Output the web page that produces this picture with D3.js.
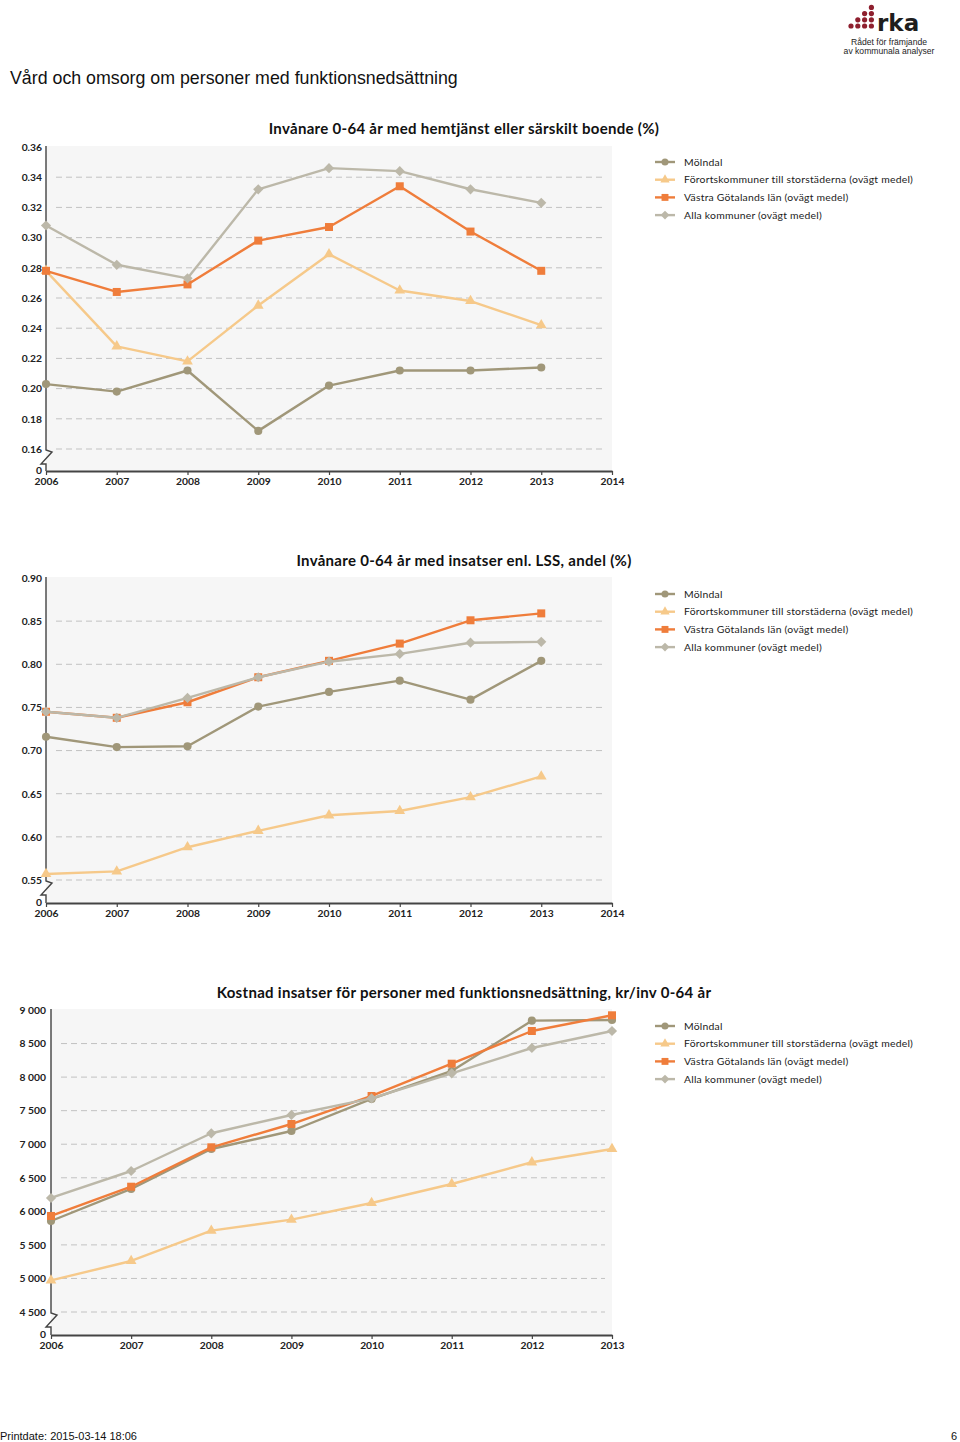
<!DOCTYPE html>
<html><head><meta charset="utf-8">
<script src="https://cdn.jsdelivr.net/npm/d3@7"></script>
<style>
html,body{margin:0;padding:0;background:#fff;}
svg{display:block;}
</style></head>
<body>
<svg id="page" width="960" height="1442"></svg>
<script>
// ---------------- DATA ----------------
const seriesNames = ["Mölndal", "Förortskommuner till storstäderna (ovägt medel)", "Västra Götalands län (ovägt medel)", "Alla kommuner (ovägt medel)"];
const years = [2006, 2007, 2008, 2009, 2010, 2011, 2012, 2013];
const xTicksA = [2006, 2007, 2008, 2009, 2010, 2011, 2012, 2013, 2014];
const xTicksC = [2006, 2007, 2008, 2009, 2010, 2011, 2012, 2013];

// Chart 1: Invånare 0-64 år med hemtjänst eller särskilt boende (%)
const title1 = "Invånare 0-64 år med hemtjänst eller särskilt boende (%)";
const yTicks1 = [0.16, 0.18, 0.20, 0.22, 0.24, 0.26, 0.28, 0.30, 0.32, 0.34, 0.36];
const c1Molndal = [0.203, 0.198, 0.212, 0.172, 0.202, 0.212, 0.212, 0.214];
const c1Forort  = [0.278, 0.228, 0.218, 0.255, 0.289, 0.265, 0.258, 0.242];
const c1Vastra  = [0.278, 0.264, 0.269, 0.298, 0.307, 0.334, 0.304, 0.278];
const c1Alla    = [0.308, 0.282, 0.273, 0.332, 0.346, 0.344, 0.332, 0.323];

// Chart 2: Invånare 0-64 år med insatser enl. LSS, andel (%)
const title2 = "Invånare 0-64 år med insatser enl. LSS, andel (%)";
const yTicks2 = [0.55, 0.60, 0.65, 0.70, 0.75, 0.80, 0.85, 0.90];
const c2Molndal = [0.716, 0.704, 0.705, 0.751, 0.768, 0.781, 0.759, 0.804];
const c2Forort  = [0.557, 0.560, 0.588, 0.607, 0.625, 0.630, 0.646, 0.670];
const c2Vastra  = [0.745, 0.738, 0.756, 0.785, 0.804, 0.824, 0.851, 0.859];
const c2Alla    = [0.745, 0.738, 0.761, 0.785, 0.803, 0.812, 0.825, 0.826];

// Chart 3: Kostnad insatser för personer med funktionsnedsättning, kr/inv 0-64 år
const title3 = "Kostnad insatser för personer med funktionsnedsättning, kr/inv 0-64 år";
const yTicks3 = [4500, 5000, 5500, 6000, 6500, 7000, 7500, 8000, 8500, 9000];
const c3Molndal = [5856, 6333, 6929, 7197, 7674, 8091, 8841, 8851];
const c3Forort  = [4970, 5260, 5712, 5876, 6124, 6407, 6731, 6929];
const c3Vastra  = [5931, 6367, 6954, 7301, 7719, 8200, 8687, 8921];
const c3Alla    = [6199, 6601, 7163, 7436, 7684, 8057, 8434, 8687];

const pageTitle = "Vård och omsorg om personer med funktionsnedsättning";
const footerText = "Printdate: 2015-03-14 18:06";
const pageNumber = "6";

// ---------------- STYLE ----------------
const colors = ["#a09779", "#f6c98a", "#ef7d3b", "#bcb8a9"];
const shapes = ["circle", "triangle", "square", "diamond"];

const svg = d3.select("#page");
const fontChart = "Lato, 'DejaVu Sans', sans-serif";

const locale = d3.formatLocale({decimal: ".", thousands: " ", grouping: [3], currency: ["", ""]});
const fmtThousands = locale.format(",d");
const fmt2 = d3.format(".2f");

function symbolPath(shape, scale) {
  const s = scale || 1;
  if (shape === "circle") return d3.symbol(d3.symbolCircle, 52 * s)();
  if (shape === "triangle") return d3.symbol(d3.symbolTriangle, 50 * s)();
  if (shape === "square") return d3.symbol(d3.symbolSquare, 64 * s)();
  return d3.symbol(d3.symbolSquare, 52 * s)();
}

function drawChart(cfg) {
  const g = svg.append("g");
  const xs = cfg.xTicks;
  const x = d3.scaleLinear().domain([xs[0], xs[xs.length - 1]]).range([cfg.left, cfg.right]);
  const yMin = cfg.yTicks[0], yMax = cfg.yTicks[cfg.yTicks.length - 1];
  const y = d3.scaleLinear().domain([yMin, yMax]).range([cfg.bottom, cfg.top]);

  // background
  g.append("rect").attr("x", cfg.left).attr("y", cfg.top - 1)
    .attr("width", cfg.right - cfg.left).attr("height", cfg.axisY - cfg.top + 1)
    .attr("fill", "#f6f6f6");

  // grid lines
  g.selectAll(".grid").data(cfg.yTicks.filter(t => t !== yMax)).enter().append("line")
    .attr("x1", cfg.left + 10).attr("x2", cfg.right - 7)
    .attr("y1", d => y(d)).attr("y2", d => y(d))
    .attr("stroke", "#c2c2c2").attr("stroke-width", 1).attr("stroke-dasharray", "6,4");

  // y axis labels
  const yAxis = d3.axisLeft(y).tickValues(cfg.yTicks).tickSize(0).tickPadding(0).tickFormat(cfg.yFormat);
  const ya = g.append("g").attr("transform", `translate(${cfg.labelX},0)`).call(yAxis);
  ya.select(".domain").remove();
  ya.selectAll("text").attr("font-family", fontChart).attr("font-weight", "bold")
    .attr("font-size", 10.3).attr("fill", "#222");
  g.append("text").attr("x", cfg.labelX).attr("y", cfg.axisY).attr("dy", "0.32em")
    .attr("text-anchor", "end").attr("font-family", fontChart).attr("font-weight", "bold")
    .attr("font-size", 10.3).attr("fill", "#222").text("0");

  // y axis line with break
  const L = cfg.left, b = cfg.bottom;
  const brk = `M${L},${cfg.top - 1}V${b + 1}L${L + 6},${b + 3}L${L - 5},${b + 15}H${L}V${cfg.axisY}`;
  g.append("path").attr("d", brk).attr("fill", "none").attr("stroke", "#444").attr("stroke-width", 1.4);

  // x axis
  const xAxis = d3.axisBottom(x).tickValues(xs).tickFormat(d3.format("d")).tickSize(4).tickSizeOuter(0).tickPadding(3);
  const xa = g.append("g").attr("transform", `translate(0,${cfg.axisY})`).call(xAxis);
  xa.select(".domain").attr("stroke", "#444").attr("stroke-width", 2);
  xa.selectAll(".tick line").attr("stroke", "#444").attr("stroke-width", 1.2);
  xa.selectAll("text").attr("font-family", fontChart).attr("font-weight", "bold")
    .attr("font-size", 10.3).attr("fill", "#222");

  // series
  const line = d3.line().x((d, i) => x(years[i])).y(d => y(d));
  cfg.series.forEach((vals, si) => {
    g.append("path").datum(vals).attr("d", line).attr("fill", "none")
      .attr("stroke", colors[si]).attr("stroke-width", 2.4).attr("stroke-linejoin", "round");
    g.selectAll(".m" + si).data(vals).enter().append("path")
      .attr("d", symbolPath(shapes[si]))
      .attr("transform", (d, i) => `translate(${x(years[i])},${y(d)})` + (shapes[si] === "diamond" ? " rotate(45)" : ""))
      .attr("fill", colors[si]);
  });

  // legend
  const lg = g.append("g");
  seriesNames.forEach((name, si) => {
    const ly = cfg.legendY + si * cfg.legendStep;
    lg.append("line").attr("x1", 655).attr("x2", 675).attr("y1", ly).attr("y2", ly)
      .attr("stroke", colors[si]).attr("stroke-width", 2.4);
    lg.append("path").attr("d", symbolPath(shapes[si], 0.75))
      .attr("transform", `translate(665,${ly})` + (shapes[si] === "diamond" ? " rotate(45)" : ""))
      .attr("fill", colors[si]);
    lg.append("text").attr("x", 684).attr("y", ly).attr("dy", "0.35em")
      .attr("font-family", fontChart).attr("font-size", 10.4).attr("letter-spacing", 0.22)
      .attr("fill", "#222").text(name);
  });

  // title
  g.append("text").attr("x", 464).attr("y", cfg.titleY).attr("dy", "0.35em").attr("text-anchor", "middle")
    .attr("font-family", fontChart).attr("font-weight", "bold").attr("font-size", 15).attr("letter-spacing", 0.3)
    .attr("fill", "#111").text(cfg.title);
}

drawChart({
  title: title1, titleY: 129, xTicks: xTicksA, yTicks: yTicks1, yFormat: fmt2,
  left: 46, right: 612, top: 147, bottom: 449, axisY: 471, labelX: 42,
  series: [c1Molndal, c1Forort, c1Vastra, c1Alla], legendY: 162, legendStep: 17.7
});
drawChart({
  title: title2, titleY: 561, xTicks: xTicksA, yTicks: yTicks2, yFormat: fmt2,
  left: 46, right: 612, top: 578, bottom: 880, axisY: 903, labelX: 42,
  series: [c2Molndal, c2Forort, c2Vastra, c2Alla], legendY: 594, legendStep: 17.7
});
drawChart({
  title: title3, titleY: 993, xTicks: xTicksC, yTicks: yTicks3, yFormat: fmtThousands,
  left: 51, right: 612, top: 1010, bottom: 1312, axisY: 1335, labelX: 46,
  series: [c3Molndal, c3Forort, c3Vastra, c3Alla], legendY: 1026, legendStep: 17.7
});

// page title
svg.append("text").attr("x", 10).attr("y", 84).attr("font-family", "'Liberation Sans', Arial, sans-serif")
  .attr("font-size", 17.8).attr("fill", "#111").text(pageTitle);

// footer
svg.append("text").attr("x", 0).attr("y", 1440).attr("font-family", "'Liberation Sans Narrow', 'Liberation Sans', sans-serif")
  .attr("font-size", 11).attr("fill", "#111").text(footerText);
svg.append("text").attr("x", 957).attr("y", 1440).attr("text-anchor", "end").attr("font-family", "'Liberation Sans Narrow', 'Liberation Sans', sans-serif")
  .attr("font-size", 11).attr("fill", "#111").text(pageNumber);

// logo
const logo = svg.append("g");
const dotCols = [0, 1, 2, 3];
dotCols.forEach(c => {
  for (let r = 0; r <= c; r++) {
    logo.append("circle").attr("cx", 851 + c * 6.8).attr("cy", 26 - r * 6.2).attr("r", 2.6).attr("fill", "#8e1f2e");
  }
});
logo.append("text").attr("x", 877).attr("y", 31).attr("font-family", "'DejaVu Sans', sans-serif")
  .attr("font-weight", "bold").attr("font-size", 23).attr("fill", "#1e1e1e").text("rka");
logo.append("text").attr("x", 889).attr("y", 45).attr("text-anchor", "middle").attr("font-family", "'Liberation Sans', Arial, sans-serif")
  .attr("font-size", 8.6).attr("fill", "#1e1e1e").text("Rådet för främjande");
logo.append("text").attr("x", 889).attr("y", 54).attr("text-anchor", "middle").attr("font-family", "'Liberation Sans', Arial, sans-serif")
  .attr("font-size", 8.6).attr("fill", "#1e1e1e").text("av kommunala analyser");
</script>
</body></html>
